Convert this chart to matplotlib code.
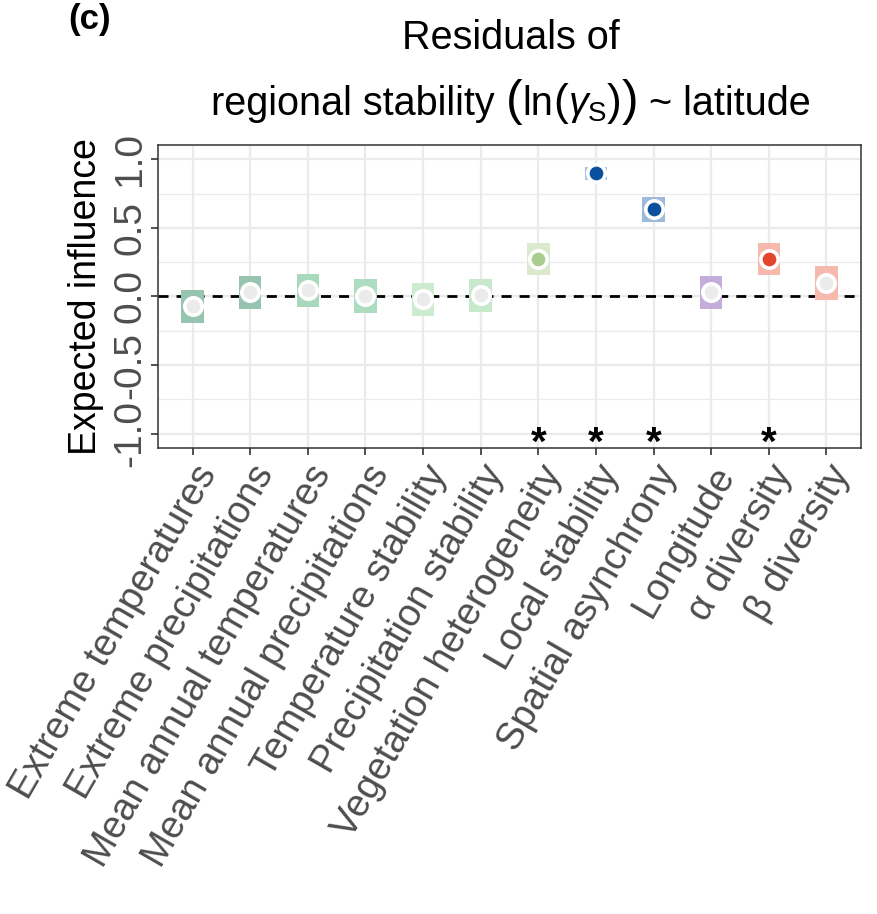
import matplotlib
matplotlib.use("Agg")
import matplotlib.pyplot as plt
from matplotlib.offsetbox import TextArea, HPacker, AnchoredOffsetbox
import numpy as np

plt.rcParams['font.family'] = ['Liberation Sans', 'DejaVu Sans']
plt.rcParams['mathtext.fontset'] = 'custom'
plt.rcParams['mathtext.rm'] = 'Liberation Sans'
plt.rcParams['mathtext.it'] = 'Liberation Sans:italic'
plt.rcParams['mathtext.bf'] = 'Liberation Sans:bold'

categories = ["Extreme temperatures", "Extreme precipitations",
              "Mean annual temperatures", "Mean annual precipitations",
              "Temperature stability", "Precipitation stability",
              "Vegetation heterogeneity", "Local stability",
              "Spatial asynchrony", "Longitude", "α diversity", "β diversity"]
estimate = [-0.07, 0.03, 0.045, 0.005, -0.02, 0.01, 0.275, 0.90, 0.635, 0.035, 0.275, 0.10]
ci_low   = [-0.19, -0.09, -0.08, -0.12, -0.145, -0.115, 0.155, 0.847, 0.54, -0.09, 0.155, -0.027]
ci_high  = [0.05, 0.15, 0.165, 0.125, 0.10, 0.13, 0.387, 0.944, 0.728, 0.153, 0.39, 0.219]
significant = [False, False, False, False, False, False, True, True, True, False, True, False]
box_colors = ["#96c4b0", "#96c4b0", "#a8d9bc", "#aedcc0", "#cbeccf", "#c8e8cb",
              "#dbe9cf", "#a9c4e1", "#9dbadb", "#c4acdb", "#f5b9ad", "#f5b9ad"]
point_colors = ["#ebebeb", "#ebebeb", "#ebebeb", "#ebebeb", "#ebebeb", "#ebebeb",
                "#a9cc8f", "#0b4f9f", "#0b4f9f", "#ebebeb", "#e3452f", "#ebebeb"]
yticks = [-1.0, -0.5, 0.0, 0.5, 1.0]
ytick_labels = ["-1.0", "-0.5", "0.0", "0.5", "1.0"]
star_level = -1.0

fig = plt.figure(figsize=(8.78, 9.14), dpi=100)
ax = fig.add_axes([158/878, 1-448/914, (861-158)/878, (448-145)/914])

x = np.arange(1, len(categories) + 1)
lo = np.array(ci_low)
hi = np.array(ci_high)

ax.axhline(0, color='black', lw=2.0, ls=(0, (3.6, 2.9)), zorder=2)
ax.bar(x, hi - lo, bottom=lo, width=0.39, color=box_colors, zorder=3, linewidth=0)
for xi, yi, pc in zip(x, estimate, point_colors):
    ax.plot(xi, yi, 'o', ms=12.5, mfc=pc, mec='white', mew=2.6, zorder=4)
for xi, s in zip(x, significant):
    if s:
        ax.annotate('*', (xi, star_level), xytext=(0, -7), textcoords='offset points',
                    ha='center', va='center', fontsize=29,
                    fontweight='bold', color='black', zorder=5)

ax.set_xlim(0.4, len(categories) + 0.6)
ax.set_ylim(-1.105, 1.105)
ax.set_yticks(yticks)
ax.set_yticklabels(ytick_labels, rotation=90, va='center')
ax.set_yticks([-0.75, -0.25, 0.25, 0.75], minor=True)
ax.set_xticks(x)
ax.set_xticklabels(categories, rotation=60, ha='right', va='top',
                   rotation_mode='anchor', color='#4d4d4d', fontsize=27.5)
ax.tick_params(axis='y', labelsize=28, labelcolor='#4d4d4d', length=5, width=1.2,
               color='#333333', pad=2)
ax.tick_params(axis='x', length=5, width=1.2, color='#333333', pad=3)
ax.tick_params(which='minor', length=0)

ax.grid(which='major', color='#ebebeb', lw=1.6, zorder=0)
ax.grid(which='minor', axis='y', color='#ebebeb', lw=0.9, zorder=0)
ax.set_axisbelow(True)
for sp in ax.spines.values():
    sp.set_color('#333333')
    sp.set_linewidth(1.1)

ax.set_ylabel("Expected influence", fontsize=27, color='black', labelpad=6)

fig.text(511/878, 1-38/914, "Residuals of", ha='center', va='center', fontsize=28.5)

fs = 28.5
pieces = [
    ("regional stability ", fs),
    ("(", 36),
    ("ln", fs),
    ("(", 32),
    (r"$\mathit{\gamma}_{\mathrm{S}}$", fs),
    (")", 32),
    (")", 36),
    (" ~ latitude", fs),
]
areas = [TextArea(t, textprops=dict(fontsize=s, color='black')) for t, s in pieces]
pack = HPacker(children=areas, align='baseline', pad=0, sep=0)
anch = AnchoredOffsetbox(loc='center', child=pack, pad=0, frameon=False,
                         bbox_to_anchor=(511/878, 1-102/914),
                         bbox_transform=fig.transFigure, borderpad=0)
fig.add_artist(anch)

fig.text(90/878, 1-20/914, "(c)", ha='center', va='center', fontsize=25, fontweight='bold')

fig.savefig("out.png", dpi=100)
